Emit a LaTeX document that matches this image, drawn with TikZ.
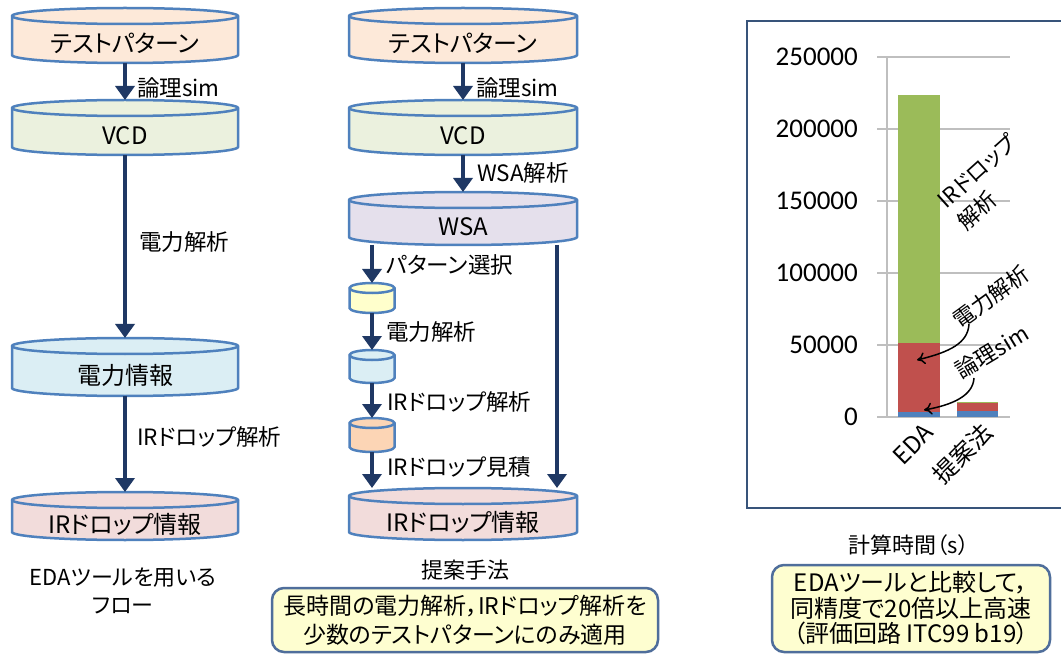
\documentclass[tikz,border=0pt]{standalone}
\usepackage{fontspec}
\setmainfont{Noto Sans CJK JP}[RawFeature={+palt}]
\newfontfamily\numfont{Carlito}
\usetikzlibrary{arrows.meta}
\definecolor{cylline}{RGB}{79,129,189}
\definecolor{flowarrow}{RGB}{31,56,100}
\definecolor{fillpeach}{RGB}{253,233,217}
\definecolor{fillgreen}{RGB}{235,241,222}
\definecolor{filllav}{RGB}{229,224,236}
\definecolor{fillblue}{RGB}{219,238,244}
\definecolor{fillpink}{RGB}{242,220,219}
\definecolor{fillyellow}{RGB}{255,255,204}
\definecolor{fillorange}{RGB}{252,213,181}
\definecolor{barblue}{RGB}{79,129,189}
\definecolor{barred}{RGB}{192,80,77}
\definecolor{bargreen}{RGB}{155,187,89}
\definecolor{gridgray}{RGB}{191,191,191}
\definecolor{boxline}{RGB}{79,110,155}
\definecolor{boxfill}{RGB}{254,254,208}
\definecolor{frameline}{RGB}{56,84,122}
\tikzset{
  cylbox/.style={inner sep=0pt, outer sep=0pt, draw=none},
  cylshape/.style={draw=cylline, line width=2.5pt},
  cyllabel/.style={font=\fontsize{24}{28}\selectfont, inner sep=0pt},
  flow/.style={draw=flowarrow, line width=4.5pt, -{Triangle[length=14pt,width=19pt]}},
  flowlabel/.style={font=\fontsize{22.5}{26}\selectfont, anchor=west, inner sep=0pt},
  caption/.style={font=\fontsize{22}{28}\selectfont, align=center, inner sep=0pt},
  notebox/.style={draw=boxline, line width=2.5pt, fill=boxfill, rounded corners=12pt, align=center, inner sep=0pt},
  grid/.style={draw=gridgray, line width=1.5pt},
  ylab/.style={font=\numfont\fontsize{27}{30}\selectfont, anchor=east, inner sep=0pt},
  catlab/.style={font=\fontsize{24}{28}\selectfont, rotate=45, anchor=east, inner sep=0pt},
  annot/.style={font=\fontsize{22}{29}\selectfont, inner sep=0pt},
  callout/.style={draw=black, line width=1.5pt, -{To[length=8pt,width=12pt]}}
}
% #1 name, #2 cx, #3 top, #4 bottom, #5 width, #6 ellipse ry, #7 fill, #8 text
\newcommand\cyl[8]{%
  \node[cylbox, minimum width=#5pt, minimum height={(#4-#3)*1pt}] (#1) at (#2,{-(#3+#4)/2}) {};
  \filldraw[cylshape, fill=#7] ([yshift=-#6pt]#1.north west) -- ([yshift=#6pt]#1.south west)
     arc[start angle=180, end angle=360, x radius=#5/2, y radius=#6]
     -- ([yshift=-#6pt]#1.north east)
     arc[start angle=0, end angle=180, x radius=#5/2, y radius=#6] -- cycle;
  \draw[cylshape] ([yshift=-#6pt]#1.north west) arc[start angle=180, end angle=360, x radius=#5/2, y radius=#6];
  \node[cyllabel] (#1-t) at ([yshift=-#6pt]#1.center) {#8};
}
\begin{document}
\begin{tikzpicture}[x=1pt, y=1pt]
\useasboundingbox (0,0) rectangle (1061,-655);
\clip (0,0) rectangle (1061,-655);
\fill[white] (0,0) rectangle (1061,-655);

% ---------- left flow ----------
\cyl{L1}{125}{8}{63}{226}{8}{fillpeach}{テストパターン}
\cyl{L2}{125}{100}{155}{226}{8}{fillgreen}{VCD}
\cyl{L3}{125}{338}{396}{226}{8}{fillblue}{電力情報}
\cyl{L4}{125}{492}{540}{226}{8}{fillpink}{IRドロップ情報}
\draw[flow] (L1) -- (L2);
\draw[flow] (L2) -- (L3);
\draw[flow] (L3) -- (L4);
\node[flowlabel] (lab-L12) at (137,-88) {論理sim};
\node[flowlabel] (lab-L23) at (139,-242) {電力解析};
\node[flowlabel] (lab-L34) at (137,-437) {IRドロップ解析};
\node[caption] (cap-left) at (123,-591) {EDAツールを用いる\\フロー};

% ---------- middle flow ----------
\cyl{M1}{463}{8}{63}{228}{8}{fillpeach}{テストパターン}
\cyl{M2}{463}{100}{155}{228}{8}{fillgreen}{VCD}
\cyl{M3}{463}{192}{245}{228}{8}{filllav}{WSA}
\cyl{M4}{463}{488}{540}{228}{8}{fillpink}{IRドロップ情報}
\cyl{S1}{372}{283}{313}{45}{5}{fillyellow}{}
\cyl{S2}{372}{350}{383}{45}{5}{fillblue}{}
\cyl{S3}{372}{418}{452}{45}{5}{fillorange}{}
\coordinate (longx) at (557,0);
\draw[flow] (M1) -- (M2);
\draw[flow] (M2) -- (M3);
\draw[flow] (M3.south -| S1) -- (S1);
\draw[flow] (S1) -- (S2);
\draw[flow] (S2) -- (S3);
\draw[flow] (S3) -- (S3.south |- M4.north);
\draw[flow] (M3.south -| longx) -- (M4.north -| longx);
\node[flowlabel] (lab-M12) at (476,-88) {論理sim};
\node[flowlabel] (lab-M23) at (477,-173) {WSA解析};
\node[flowlabel] (lab-S0) at (386,-265) {パターン選択};
\node[flowlabel] (lab-S1) at (386,-332) {電力解析};
\node[flowlabel] (lab-S2) at (387,-402) {IRドロップ解析};
\node[flowlabel] (lab-S3) at (387,-467) {IRドロップ見積};
\node[caption] (cap-mid) at (465,-570) {提案手法};
\node[notebox, minimum width=386pt, minimum height=64pt, font=\fontsize{23}{29}\selectfont] (note-mid) at (465,-620)
  {長時間の電力解析，IRドロップ解析を\\少数のテストパターンにのみ適用};

% ---------- chart ----------
\draw[draw=frameline, line width=1.8pt] (1075,-21) -- (747,-21) -- (747,-508) -- (1075,-508);
\foreach \v/\yy in {0/417,50000/345,100000/273,150000/201,200000/129,250000/57} {
  \draw[grid] (877,-\yy) -- (1010,-\yy);
  \node[ylab] (ytick-\v) at (858,-\yy) {\v};
}
\draw[grid] (887,-57) -- (887,-417);
% EDA bar
\fill[barblue] (898,-417) rectangle (940,-412);
\fill[barred] (898,-412) rectangle (940,-343);
\fill[bargreen] (898,-343) rectangle (940,-95);
% proposed bar
\fill[barblue] (957,-417) rectangle (998,-411);
\fill[barred] (957,-411) rectangle (998,-403);
\fill[bargreen] (957,-403) rectangle (998,-401.5);
\node[catlab] (cat-eda) at (929,-428) {EDA};
\node[catlab] (cat-prop) at (988,-428) {提案法};
\node[annot, rotate=42, align=left] (ann-ir) at (987,-182) {IRドロップ\\解析};
\node[annot, rotate=36] (ann-pw) at (991,-297) {電力解析};
\node[annot, rotate=31] (ann-sim) at (992,-352) {論理sim};
\coordinate (pw-start) at (969,-324);
\coordinate (pw-tip) at (917,-360);
\coordinate (sim-start) at (974,-378);
\coordinate (sim-tip) at (924,-410);
\draw[callout] (pw-start) .. controls (968,-343) and (950,-352) .. (pw-tip);
\draw[callout] (sim-start) .. controls (973,-396) and (952,-405) .. (sim-tip);
\node[caption] (cap-chart) at (909,-545) {計算時間（s）};
\node[notebox, minimum width=278pt, minimum height=87pt, font=\fontsize{24}{25.5}\selectfont] (note-right) at (911,-608.5)
  {EDAツールと比較して，\\同精度で20倍以上高速\\（評価回路 ITC99 b19）};
\end{tikzpicture}
\end{document}
